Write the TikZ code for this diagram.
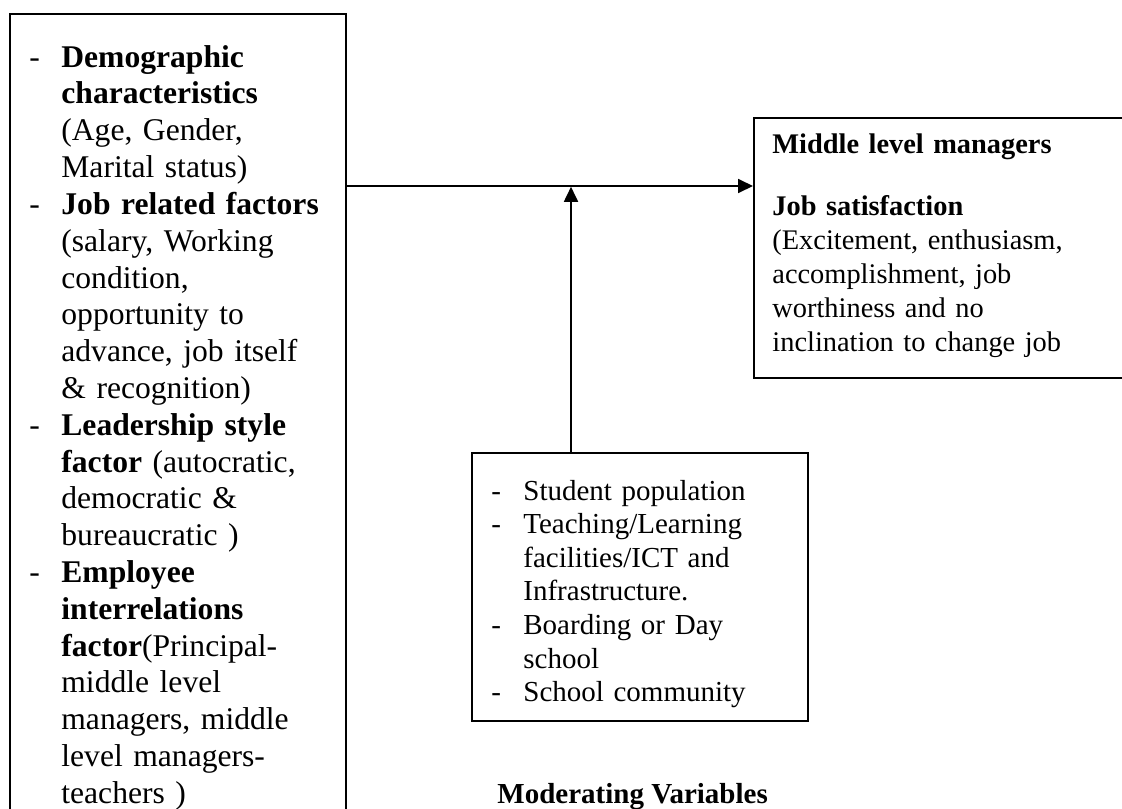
\documentclass[tikz,border=0pt]{standalone}
\usepackage{fontspec}
\setmainfont{Liberation Serif}
\usetikzlibrary{arrows.meta,positioning}
\newcommand{\dashitem}[1]{\par\noindent\hangindent=16pt\hangafter=1\makebox[16pt][l]{-}#1\par}
\tikzset{
  box/.style={draw,line width=0.8pt,inner sep=0pt,anchor=north west},
  txt/.style={inner sep=0pt,anchor=north west,text width=200pt},
  conn/.style={line width=0.9pt,-{Triangle[length=7.5pt,width=7pt]}}
}
\begin{document}
\begin{tikzpicture}[x=0.5pt,y=-0.5pt]
\useasboundingbox (0,0) rectangle (1122,808);
\clip (0,0) rectangle (1122,808);
% boxes
\node[box,minimum width=168pt,minimum height=409pt] (lbox) at (9,13) {};
\node[box,minimum width=200pt,minimum height=130pt] (rbox) at (753,117) {};
\node[box,minimum width=168pt,minimum height=134pt] (mbox) at (471,452) {};
% texts
\node[txt,font=\fontsize{15.8}{18.4}\selectfont] (ltxt) at (29,30) {%
\dashitem{\rule{0pt}{12pt}\textbf{Demographic}\newline \textbf{characteristics}\newline (Age, Gender,\newline Marital status)}
\dashitem{\textbf{Job related factors}\newline (salary, Working\newline condition,\newline opportunity to\newline advance, job itself\newline \& recognition)}
\dashitem{\textbf{Leadership style}\newline \textbf{factor} (autocratic,\newline democratic \&\newline bureaucratic )}
\dashitem{\textbf{Employee}\newline \textbf{interrelations}\newline \textbf{factor}(Principal-\newline middle level\newline managers, middle\newline level managers-\newline teachers )}};
\node[txt,font=\fontsize{14.2}{17}\selectfont] (rtxt) at (772,129) {%
\noindent\rule{0pt}{12pt}\textbf{Middle level managers}\par\vspace{14pt}
\noindent\textbf{Job satisfaction}\newline (Excitement, enthusiasm,\newline accomplishment, job\newline worthiness and no\newline inclination to change job};
\node[txt,font=\fontsize{14.5}{16.8}\selectfont] (mtxt) at (491,466) {%
\dashitem{\rule{0pt}{12pt}Student population}
\dashitem{Teaching/Learning\newline facilities/ICT and\newline Infrastructure.}
\dashitem{Boarding or Day\newline school}
\dashitem{School community}};
\node[inner sep=0pt,anchor=base west,font=\fontsize{14.5}{17}\selectfont\bfseries] (mlabel) at (497,803) {Moderating Variables};
% connectors
\coordinate (junc) at (571,186);
\draw[conn] (lbox.east |- junc) -- (rbox.west |- junc);
\draw[conn,shorten >=0.4pt] (mbox.north -| junc) -- (junc);
\end{tikzpicture}
\end{document}
